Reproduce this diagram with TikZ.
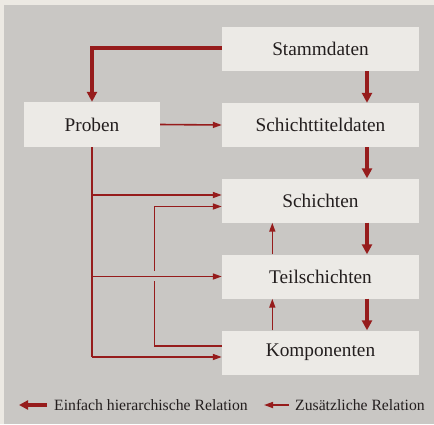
\documentclass[tikz,border=0pt]{standalone}
\usepackage{fontspec}
\setmainfont{Liberation Serif}
\usetikzlibrary{arrows.meta}
\definecolor{outerbg}{RGB}{236,233,227}
\definecolor{panelbg}{RGB}{201,199,196}
\definecolor{boxfill}{RGB}{236,234,230}
\definecolor{relred}{RGB}{150,28,28}
\definecolor{txt}{RGB}{35,30,30}
\begin{document}
\begin{tikzpicture}[x=1pt,y=-1pt,
  entity/.style={fill=boxfill,draw=none,minimum width=197pt,minimum height=44pt,inner sep=0pt,
    font=\fontsize{19.3}{22}\selectfont,text=txt},
  hier/.style={draw=relred,line width=4.5pt,-{Triangle[length=10pt,width=10pt]}},
  extra/.style={draw=relred,line width=1.6pt,-{Triangle[length=9pt,width=6pt]}},
  plainrel/.style={draw=relred,line width=1.6pt},
  legendtext/.style={font=\fontsize{15.7}{18}\selectfont,text=txt,inner sep=0pt,anchor=west}]
\useasboundingbox (0,0) rectangle (434,424);
\fill[outerbg] (0,0) rectangle (434,424);
\fill[panelbg] (4,5) rectangle (434,424);

\node[entity] (stamm) at (320.5,49) {Stammdaten};
\node[entity] (titel) at (320.5,125) {Schichttiteldaten};
\node[entity] (schicht) at (320.5,200.5) {Schichten};
\node[entity] (teil) at (320.5,276.5) {Teilschichten};
\node[entity] (komp) at (320.5,352.5) {Komponenten};
\node[entity,minimum width=136pt,minimum height=45pt] (proben) at (92,124.5) {Proben};

% hierarchical relations
\draw[hier,line cap=butt] (stamm.west|-0,48) -| (proben.north);
\draw[hier] (stamm.south-|367,0) -- (titel.north-|367,0);
\draw[hier] (titel.south-|367,0) -- (schicht.north-|367,0);
\draw[hier] (schicht.south-|367,0) -- (teil.north-|367,0);
\draw[hier] (teil.south-|367,0) -- (komp.north-|367,0);

% additional relations
\coordinate (pb) at (92,357);
\coordinate (gapTop) at (154.3,271);
\coordinate (gapBot) at (154.3,281);
\draw[extra] (proben.east) -- (titel.west);
\draw[plainrel] (proben.south) -- (pb);
\draw[extra] (pb) -- (komp.west|-pb);
\draw[extra] (92,195) -- (schicht.west|-0,195);
\draw[extra] (92,276.5) -- (teil.west);
\draw[plainrel] (komp.west|-0,345.7) -| (gapBot);
\draw[extra] (gapTop) |- (schicht.west|-0,206.5);
\draw[extra] (komp.north-|272.3,0) -- (teil.south-|272.3,0);
\draw[extra] (teil.north-|272.3,0) -- (schicht.south-|272.3,0);

% legend
\coordinate (l1a) at (47,405);
\coordinate (l1b) at (19,405);
\coordinate (l2a) at (289,405);
\coordinate (l2b) at (264,405);
\draw[hier,-{Triangle[length=9pt,width=9pt]}] (l1a) -- (l1b);
\draw[extra] (l2a) -- (l2b);
\node[legendtext] (leg1) at (54,405) {Einfach hierarchische Relation};
\node[legendtext] (leg2) at (295,405) {Zusätzliche Relation};
\end{tikzpicture}
\end{document}
